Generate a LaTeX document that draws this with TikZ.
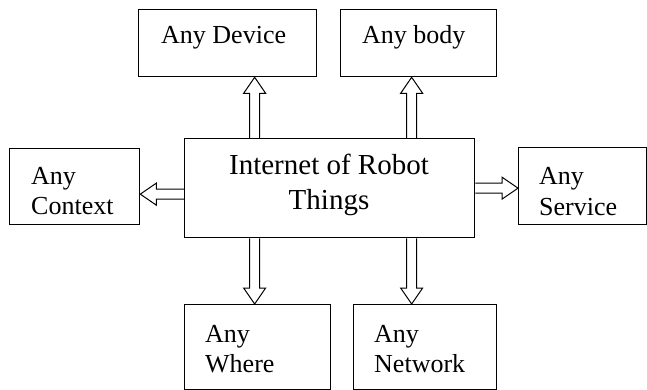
\documentclass[tikz,border=0pt]{standalone}
\usepackage{fontspec}
\setmainfont{Liberation Serif}
\usetikzlibrary{calc}

\tikzset{
  box/.style={draw, line width=1.3pt, inner sep=0pt, anchor=north west},
  lbl/.style={inner sep=0pt, anchor=base west, font=\fontsize{26}{30}\selectfont},
  % hollow block arrow from \tikztostart to \tikztotarget
  fatarrow/.style={line width=1pt, line join=miter, to path={
    ($(\tikztostart)!5pt!90:(\tikztotarget)$)
    -- ($(\tikztotarget)!16pt!(\tikztostart)!5pt!90:(\tikztotarget)$)
    -- ($(\tikztotarget)!16pt!(\tikztostart)!11pt!90:(\tikztotarget)$)
    -- (\tikztotarget)
    -- ($(\tikztotarget)!16pt!(\tikztostart)!11pt!-90:(\tikztotarget)$)
    -- ($(\tikztotarget)!16pt!(\tikztostart)!5pt!-90:(\tikztotarget)$)
    -- ($(\tikztostart)!5pt!-90:(\tikztotarget)$)
  }}
}

\begin{document}
\begin{tikzpicture}[x=1pt, y=-1pt]
  \useasboundingbox (0,0) rectangle (647,390);

  % boxes
  \node[box, minimum width=178pt, minimum height=67pt] (dev) at (138,9) {};
  \node[box, minimum width=156pt, minimum height=67pt] (body) at (340,9) {};
  \node[box, minimum width=130pt, minimum height=76pt] (ctx) at (9,148) {};
  \node[box, minimum width=290pt, minimum height=99pt] (ce) at (184,138) {};
  \node[box, minimum width=128pt, minimum height=77pt] (srv) at (518,147) {};
  \node[box, minimum width=146pt, minimum height=85pt] (whr) at (184,304) {};
  \node[box, minimum width=143pt, minimum height=85pt] (net) at (353,304) {};

  % labels
  \node[lbl] (tdev) at (161,44) {Any Device};
  \node[lbl] (tbody) at (362,44) {Any body};
  \node[lbl] (tctx) at (31,184) {\begin{tabular}[t]{@{}l@{}}Any\\Context\end{tabular}};
  \node[lbl] (tsrv) at (539,185) {\begin{tabular}[t]{@{}l@{}}Any\\Service\end{tabular}};
  \node[lbl] (twhr) at (205,342) {\begin{tabular}[t]{@{}l@{}}Any\\Where\end{tabular}};
  \node[lbl] (tnet) at (374,342) {\begin{tabular}[t]{@{}l@{}}Any\\Network\end{tabular}};
  \node[inner sep=0pt, anchor=base, font=\fontsize{29}{35}\selectfont] (tce) at (329,175)
    {\begin{tabular}[t]{@{}c@{}}Internet of Robot\\Things\end{tabular}};

  % connectors
  \draw[fatarrow] ([xshift=-75pt]ce.north) to ([xshift=-75pt]ce.north |- dev.south);
  \draw[fatarrow] ([xshift=82pt]ce.north) to ([xshift=82pt]ce.north |- body.south);
  \draw[fatarrow] ([xshift=-75pt]ce.south) to ([xshift=-75pt]ce.south |- whr.north);
  \draw[fatarrow] ([xshift=82pt]ce.south) to ([xshift=82pt]ce.south |- net.north);
  \draw[fatarrow] ([yshift=-6pt]ce.west) to ([yshift=-6pt]ce.west -| ctx.east);
  \draw[fatarrow] (ce.east) to (ce.east -| srv.west);
\end{tikzpicture}
\end{document}
